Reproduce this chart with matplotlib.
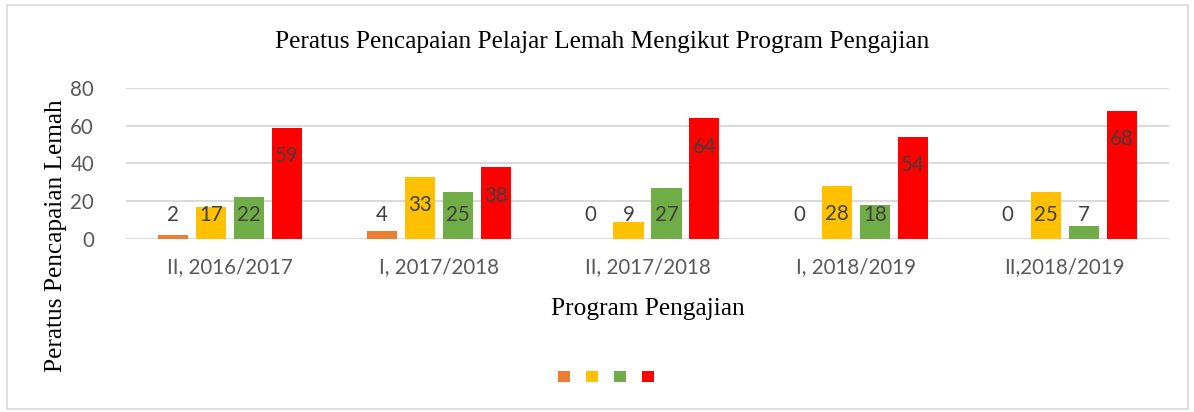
import matplotlib
matplotlib.use("Agg")
import matplotlib.pyplot as plt
import numpy as np
from matplotlib.patches import Patch, Rectangle

categories = ["II, 2016/2017", "I, 2017/2018", "II, 2017/2018", "I, 2018/2019", "II,2018/2019"]
series_a = [2, 4, 0, 0, 0]
series_b = [17, 33, 9, 28, 25]
series_c = [22, 25, 27, 18, 7]
series_d = [59, 38, 64, 54, 68]
series = [series_a, series_b, series_c, series_d]
colors = ["#ED7D31", "#FFC000", "#70AD47", "#FF0000"]
yticks = [0, 20, 40, 60, 80]

title = "Peratus Pencapaian Pelajar Lemah Mengikut Program Pengajian"
xlabel = "Program Pengajian"
ylabel = "Peratus Pencapaian Lemah"

W, H = 1194, 412
fig = plt.figure(figsize=(W / 100, H / 100), dpi=100)
ax = fig.add_axes([126 / W, 1 - 239 / H, (1169 - 126) / W, (239 - 88) / H])

sans = ["Lato", "DejaVu Sans"]
serif = ["Liberation Serif", "DejaVu Serif"]
lab_col = "#404040"
tick_col = "#595959"
fs = 14.8

x = np.arange(len(categories))
step = 0.182
width = 0.144
for i, (vals, c) in enumerate(zip(series, colors)):
    xs = x + (i - 1.5) * step
    ax.bar(xs, vals, width=width, color=c, zorder=3)
    for xi, v in zip(xs, vals):
        ax.text(xi, max(v - 15, 12.7), str(v), ha="center", va="center",
                fontsize=fs, family=sans, color=lab_col, zorder=4)

ax.set_xlim(-0.5, len(categories) - 0.5)
ax.set_ylim(0, 80)
ax.set_yticks(yticks)
ax.yaxis.grid(True, color="#d9d9d9", linewidth=1.4, zorder=0)
ax.set_axisbelow(True)
for s in ax.spines.values():
    s.set_visible(False)
ax.tick_params(length=0)
ax.set_xticks(x)
ax.set_xticklabels(categories)
for lab in ax.get_xticklabels() + ax.get_yticklabels():
    lab.set_family(sans)
    lab.set_fontsize(fs)
    lab.set_color(tick_col)
ax.tick_params(axis="x", pad=13)
ax.tick_params(axis="y", pad=23)

fig.text(602 / W, 1 - 42 / H, title, ha="center", va="center", family=serif, fontsize=18.3, color="#000000")
fig.text(648 / W, 1 - 309 / H, xlabel, ha="center", va="center", family=serif, fontsize=18.3, color="#000000")
fig.text(56 / W, 1 - 236 / H, ylabel, ha="center", va="center", rotation=90, family=serif, fontsize=18.3, color="#000000")

handles = [Patch(facecolor=c, edgecolor="none") for c in colors]
fig.legend(handles, ["", "", "", ""], loc="center", bbox_to_anchor=(606 / W, 1 - 377 / H),
           ncol=4, frameon=False, fontsize=10, handlelength=0.86, handleheight=0.86,
           handletextpad=0, columnspacing=1.15)

fig.patches.append(Rectangle((7 / W, 3 / H), (1188 - 7) / W, (407 - 3) / H, transform=fig.transFigure,
                             fill=False, edgecolor="#d9d9d9", linewidth=1.2))

fig.savefig("out.png", dpi=100)
